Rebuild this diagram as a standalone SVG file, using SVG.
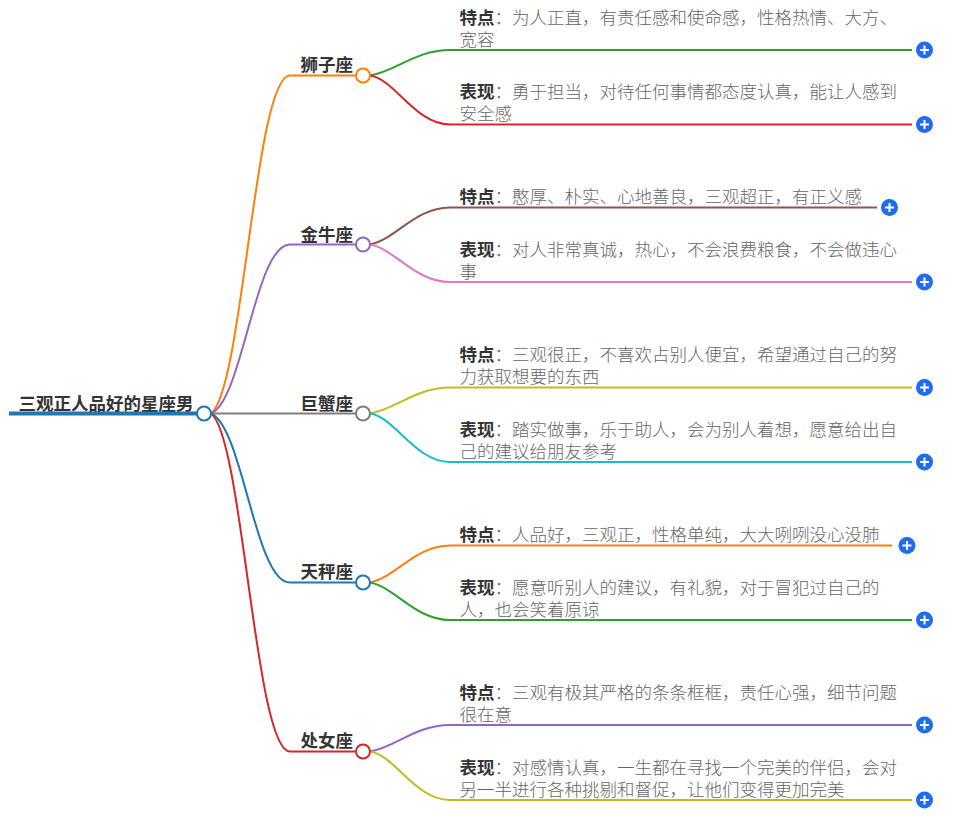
<svg xmlns="http://www.w3.org/2000/svg" width="974" height="816" viewBox="0 0 974 816">
<style>
text{font-family:"Noto Sans CJK SC","Liberation Sans",sans-serif;font-size:17.5px;fill:#666;font-weight:300}
.b,.n{font-weight:700;fill:#333}
.l{fill:none;stroke-width:2}
.c{fill:#fff;stroke-width:2}
.p{fill:#1e6cf0}
.x{stroke:#fff;stroke-width:2;fill:none}
</style>
<rect width="974" height="816" fill="#fff"/>
<g id="connectors">
<path class="l" d="M9 413.500H197" stroke="#1f77b4" style="stroke-width:4"/>
<path class="l" stroke="#ff7f0e" d="M211 413.500C243 390 255 75.500 290 75.500H356"/>
<path class="l" stroke="#9467bd" d="M211 413.500C243 400 255 244.500 290 244.500H356"/>
<path class="l" stroke="#7f7f7f" d="M211 413.500H356"/>
<path class="l" stroke="#1f77b4" d="M211 413.500C243 427 255 582.500 290 582.500H356"/>
<path class="l" stroke="#d62728" d="M211 413.500C243 437 255 751.500 290 751.500H356"/>
<path class="l" stroke="#2ca02c" d="M370 75.500C395 72 415 50 450 50H912"/>
<path class="l" stroke="#d62728" d="M370 75.500C395 79 415 124.500 450 124.500H912"/>
<path class="l" stroke="#8c564b" d="M370 244.500C395 240 415 207.500 450 207.500H877"/>
<path class="l" stroke="#e377c2" d="M370 244.500C395 249 415 282 450 282H912"/>
<path class="l" stroke="#bcbd22" d="M370 413.500C395 410 415 387.500 450 387.500H912"/>
<path class="l" stroke="#17becf" d="M370 413.500C395 417 415 462 450 462H912"/>
<path class="l" stroke="#ff7f0e" d="M370 582.500C395 578 415 545.500 450 545.500H892"/>
<path class="l" stroke="#2ca02c" d="M370 582.500C395 587 415 620 450 620H912"/>
<path class="l" stroke="#9467bd" d="M370 751.500C395 748 415 725 450 725H912"/>
<path class="l" stroke="#bcbd22" d="M370 751.500C395 755 415 800 450 800H912"/>
</g>
<g id="root"><text class="n" x="18.500" y="410">三观正人品好的星座男</text><circle class="c" cx="204" cy="413.500" r="7" stroke="#1f77b4"/></g>
<g id="b1"><text class="n" x="300.500" y="71">狮子座</text><circle class="c" cx="363" cy="75.500" r="7" stroke="#ff7f0e"/></g>
<g id="b2"><text class="n" x="300.500" y="241">金牛座</text><circle class="c" cx="363" cy="244.500" r="7" stroke="#9467bd"/></g>
<g id="b3"><text class="n" x="300.500" y="410">巨蟹座</text><circle class="c" cx="363" cy="413.500" r="7" stroke="#7f7f7f"/></g>
<g id="b4"><text class="n" x="300.500" y="578">天秤座</text><circle class="c" cx="363" cy="582.500" r="7" stroke="#1f77b4"/></g>
<g id="b5"><text class="n" x="300.500" y="747">处女座</text><circle class="c" cx="363" cy="751.500" r="7" stroke="#d62728"/></g>
<g id="leaf1"><text x="459.500" y="24"><tspan class="b">特点</tspan>：为人正直，有责任感和使命感，性格热情、大方、</text><text x="459.500" y="46">宽容</text><circle class="p" cx="924.500" cy="50" r="8.500"/><path class="x" d="M920 50h9M924.500 45.500v9"/></g>
<g id="leaf2"><text x="459.500" y="98"><tspan class="b">表现</tspan>：勇于担当，对待任何事情都态度认真，能让人感到</text><text x="459.500" y="120">安全感</text><circle class="p" cx="924.500" cy="124.500" r="8.500"/><path class="x" d="M920 124.500h9M924.500 120v9"/></g>
<g id="leaf3"><text x="459.500" y="203"><tspan class="b">特点</tspan>：憨厚、朴实、心地善良，三观超正，有正义感</text><circle class="p" cx="889.500" cy="207.500" r="8.500"/><path class="x" d="M885 207.500h9M889.500 203v9"/></g>
<g id="leaf4"><text x="459.500" y="256"><tspan class="b">表现</tspan>：对人非常真诚，热心，不会浪费粮食，不会做违心</text><text x="459.500" y="278">事</text><circle class="p" cx="924.500" cy="282" r="8.500"/><path class="x" d="M920 282h9M924.500 277.500v9"/></g>
<g id="leaf5"><text x="459.500" y="361"><tspan class="b">特点</tspan>：三观很正，不喜欢占别人便宜，希望通过自己的努</text><text x="459.500" y="383">力获取想要的东西</text><circle class="p" cx="924.500" cy="387.500" r="8.500"/><path class="x" d="M920 387.500h9M924.500 383v9"/></g>
<g id="leaf6"><text x="459.500" y="436"><tspan class="b">表现</tspan>：踏实做事，乐于助人，会为别人着想，愿意给出自</text><text x="459.500" y="458">己的建议给朋友参考</text><circle class="p" cx="924.500" cy="462" r="8.500"/><path class="x" d="M920 462h9M924.500 457.500v9"/></g>
<g id="leaf7"><text x="459.500" y="541"><tspan class="b">特点</tspan>：人品好，三观正，性格单纯，大大咧咧没心没肺</text><circle class="p" cx="907" cy="545.500" r="8.500"/><path class="x" d="M902.500 545.500h9M907 541v9"/></g>
<g id="leaf8"><text x="459.500" y="594"><tspan class="b">表现</tspan>：愿意听别人的建议，有礼貌，对于冒犯过自己的</text><text x="459.500" y="616">人，也会笑着原谅</text><circle class="p" cx="924.500" cy="620" r="8.500"/><path class="x" d="M920 620h9M924.500 615.500v9"/></g>
<g id="leaf9"><text x="459.500" y="699"><tspan class="b">特点</tspan>：三观有极其严格的条条框框，责任心强，细节问题</text><text x="459.500" y="721">很在意</text><circle class="p" cx="924.500" cy="725" r="8.500"/><path class="x" d="M920 725h9M924.500 720.500v9"/></g>
<g id="leaf10"><text x="459.500" y="774"><tspan class="b">表现</tspan>：对感情认真，一生都在寻找一个完美的伴侣，会对</text><text x="459.500" y="796">另一半进行各种挑剔和督促，让他们变得更加完美</text><circle class="p" cx="924.500" cy="800" r="8.500"/><path class="x" d="M920 800h9M924.500 795.500v9"/></g>
</svg>
